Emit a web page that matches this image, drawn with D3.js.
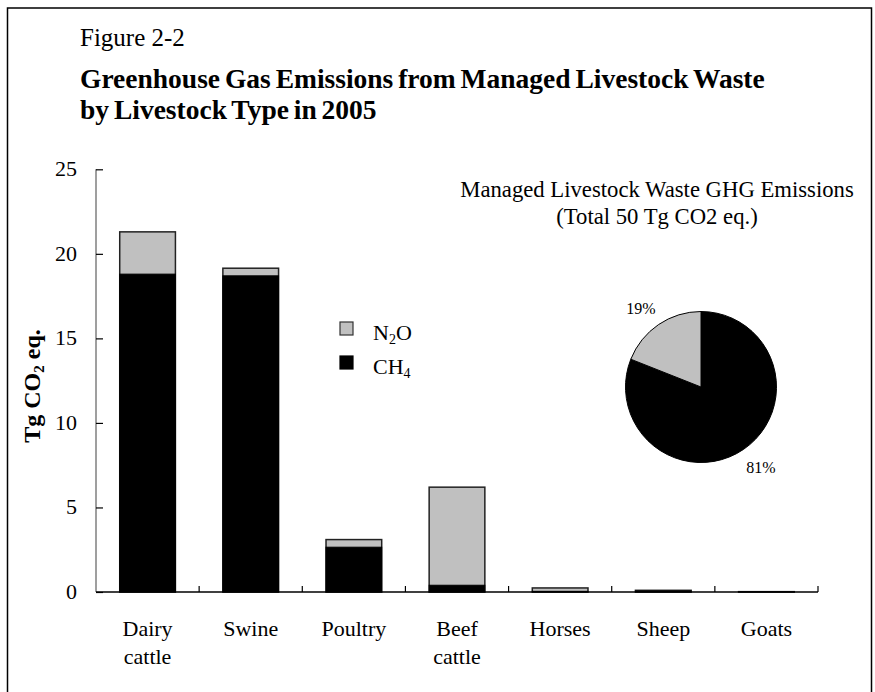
<!DOCTYPE html>
<html>
<head>
<meta charset="utf-8">
<script src="https://cdn.jsdelivr.net/npm/d3@7"></script>
<style>
  html, body { margin: 0; padding: 0; background: #fff; }
  svg { display: block; font-family: 'Liberation Serif', 'Times New Roman', serif; }
</style>
</head>
<body>
<svg id="chart" width="875" height="692"></svg>
<script>
// livestock types (two-line labels split by \n)
const categories = ['Dairy\ncattle', 'Swine', 'Poultry', 'Beef\ncattle', 'Horses', 'Sheep', 'Goats'];
// Tg CO2 eq. by gas
const ch4 = [18.8, 18.7, 2.65, 0.4, 0.04, 0.06, 0.01];
const n2o = [2.5, 0.45, 0.45, 5.8, 0.2, 0.04, 0.01];
const yTicks = [0, 5, 10, 15, 20, 25];
// pie shares, percent
const pieLabels = ['CH4', 'N2O'];
const pieValues = [81, 19];

const svg = d3.select('#chart');
const H = 692;

const grey = '#c0c0c0';

// outer frame
svg.append('rect')
    .attr('x', 7.5).attr('y', 8)
    .attr('width', 864).attr('height', H + 10)
    .style('fill', 'none').style('stroke', '#000').style('stroke-width', 1.5);

// titles
svg.append('text').attr('x', 80).attr('y', 46)
    .style('font-size', '25px').text('Figure 2-2');
svg.append('text').attr('x', 80).attr('y', 88)
    .style('font-size', '27.5px').style('font-weight', 'bold').style('word-spacing', '-2px')
    .text('Greenhouse Gas Emissions from Managed Livestock Waste');
svg.append('text').attr('x', 80).attr('y', 119)
    .style('font-size', '27.5px').style('font-weight', 'bold').style('word-spacing', '-2px')
    .text('by Livestock Type in 2005');

// scales
const x = d3.scaleBand().domain(categories).range([96, 818]).paddingInner(0.46).paddingOuter(0.23);
const xStep = d3.scaleBand().domain(categories).range([96, 818]);
const y = d3.scaleLinear().domain([0, 25]).range([592, 169.3]);

const stacked = categories.map((c, i)=>({cat: c, ch4: ch4[i], n2o: n2o[i]}));

// bars: CH4 bottom, N2O on top
const bars = svg.append('g').selectAll('g').data(stacked).enter().append('g');
bars.append('rect')
    .attr('x', (d)=>x(d.cat))
    .attr('width', x.bandwidth())
    .attr('y', (d)=>y(d.ch4 + d.n2o))
    .attr('height', (d)=>y(0) - y(d.ch4 + d.n2o))
    .style('fill', grey).style('stroke', '#222').style('stroke-width', 1.5);
bars.append('rect')
    .attr('x', (d)=>x(d.cat))
    .attr('width', x.bandwidth())
    .attr('y', (d)=>y(d.ch4))
    .attr('height', (d)=>y(0) - y(d.ch4))
    .style('fill', '#000').style('stroke', '#000').style('stroke-width', 1);

// y axis
const yAxis = svg.append('g').attr('transform', 'translate(96,0)')
    .call(d3.axisRight(y).tickValues(yTicks).tickSize(7).tickFormat(''));
yAxis.select('.domain').attr('d', `M0,${y(25)}V${y(0)}`).style('stroke', '#7f7f7f').style('stroke-width', 1.5);
yAxis.selectAll('.tick line').style('stroke', '#000').style('stroke-width', 1.2);

svg.append('g').selectAll('text').data(yTicks).enter().append('text')
    .attr('x', 77).attr('y', (d)=>y(d) + 7)
    .attr('text-anchor', 'end')
    .style('font-size', '22px')
    .text((d)=>d);

// y label with subscript
const yl = svg.append('text')
    .attr('transform', 'translate(40,386) rotate(-90)')
    .attr('text-anchor', 'middle')
    .style('font-size', '24px').style('font-weight', 'bold');
yl.append('tspan').text('Tg CO');
yl.append('tspan').style('font-size', '15px').attr('dy', 4).text('2');
yl.append('tspan').attr('dy', -4).text(' eq.');

// x axis line and inward ticks at category borders
svg.append('line')
    .attr('x1', 96).attr('x2', 818).attr('y1', y(0)).attr('y2', y(0))
    .style('stroke', '#000').style('stroke-width', 1.5);
svg.append('g').selectAll('line').data(categories).enter().append('line')
    .attr('x1', (d)=>xStep(d) + xStep.step())
    .attr('x2', (d)=>xStep(d) + xStep.step())
    .attr('y1', y(0)).attr('y2', y(0) - 6)
    .style('stroke', '#000').style('stroke-width', 1.2);

// category labels
const xl = svg.append('g').selectAll('text').data(categories).enter().append('text')
    .attr('y', 636)
    .attr('text-anchor', 'middle')
    .style('font-size', '22px');
xl.selectAll('tspan').data((d)=>d.split('\n').map((t)=>({t, c: d}))).enter().append('tspan')
    .attr('x', (d)=>xStep(d.c) + xStep.bandwidth() / 2)
    .attr('dy', (d, i)=>i ? 28 : 0)
    .text((d)=>d.t);

// legend
const legend = [{sub: '2', a: 'N', b: 'O', fill: grey, stroke: '#333'},
  {sub: '4', a: 'CH', b: '', fill: '#000', stroke: '#000'}];
const lg = svg.append('g').selectAll('g').data(legend).enter().append('g')
    .attr('transform', (d, i)=>`translate(340,${322 + i * 34})`);
lg.append('rect').attr('width', 13).attr('height', 13)
    .style('fill', (d)=>d.fill).style('stroke', (d)=>d.stroke).style('stroke-width', 1.2);
const lt = lg.append('text').attr('x', 33).attr('y', 18).style('font-size', '22px');
lt.append('tspan').text((d)=>d.a);
lt.append('tspan').style('font-size', '14px').attr('dy', 4).text((d)=>d.sub);
lt.append('tspan').attr('dy', -4).text((d)=>d.b);

// pie title
svg.append('text').attr('x', 657).attr('y', 197).attr('text-anchor', 'middle')
    .style('font-size', '22.7px').text('Managed Livestock Waste GHG Emissions');
svg.append('text').attr('x', 657).attr('y', 224).attr('text-anchor', 'middle')
    .style('font-size', '22.7px').text('(Total 50 Tg CO2 eq.)');

// pie, CH4 clockwise from 12 o'clock
const pie = d3.pie().sort(null).value((d)=>d);
const arc = d3.arc().innerRadius(0).outerRadius(75.5);
const pg = svg.append('g').attr('transform', 'translate(701,387)');
pg.selectAll('path').data(pie(pieValues)).enter().append('path')
    .attr('d', arc)
    .style('fill', (d, i)=>i ? grey : '#000')
    .style('stroke', '#000').style('stroke-width', 1);

svg.append('text').attr('x', 641).attr('y', 314).attr('text-anchor', 'middle')
    .style('font-size', '16px').text(pieValues[1] + '%');
svg.append('text').attr('x', 761).attr('y', 473).attr('text-anchor', 'middle')
    .style('font-size', '16px').text(pieValues[0] + '%');
</script>
</body>
</html>
